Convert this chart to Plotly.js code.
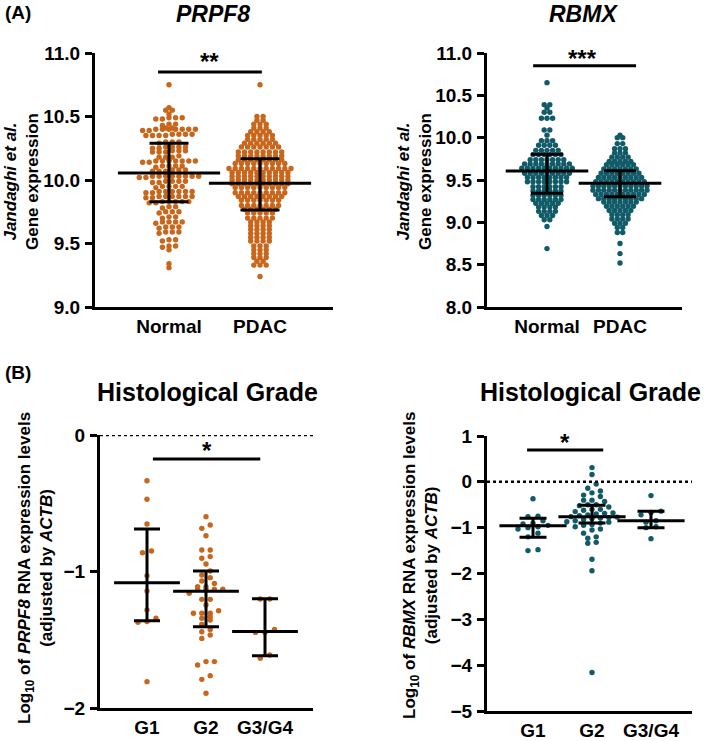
<!DOCTYPE html>
<html><head><meta charset="utf-8">
<script src="https://cdn.plot.ly/plotly-3.0.1.min.js"></script>
<style>html,body{margin:0;padding:0;background:#fff}#chart{width:709px;height:741px}</style>
</head><body><div id="chart"></div>
<script>
// ---------- DATA ----------
const groupsA = ['Normal', 'PDAC'];
const groupsB = ['G1', 'G2', 'G3/G4'];

const prpf8Normal = [10.75,
 10.57,10.55,10.55,10.52,
 10.49,10.49,10.48,10.49,10.48,
 10.44,10.44,10.43,
 10.40,10.40,10.39,10.40,10.41,10.40,10.39,10.40,10.40,10.41,10.40,
 10.36,10.35,10.36,10.35,10.36,10.35,10.36,10.35,
 10.30,10.30,10.29,10.30,
 10.26,10.26,10.25,10.26,10.26,10.25,
 10.22,10.23,10.22,10.23,10.22,10.23,
 10.18,10.18,10.19,10.18,
 10.15,10.15,10.14,10.15,10.15,10.16,10.15,10.14,10.15,10.15,
 10.11,10.11,10.10,10.11,10.11,
 10.07,10.08,10.07,10.08,10.07,10.08,
 10.03,10.03,10.02,10.03,10.03,10.04,10.03,10.02,10.03,10.03,10.03,
 9.99,9.99,9.98,9.99,9.99,9.98,
 9.95,9.95,9.94,9.95,9.95,
 9.91,9.91,9.90,9.91,9.91,9.90,9.91,9.91,
 9.87,9.87,9.86,9.87,9.87,9.86,9.87,9.87,
 9.83,9.83,9.82,9.83,9.83,9.82,9.83,
 9.79,9.79,9.78,
 9.75,9.75,9.74,9.75,
 9.71,9.71,9.70,
 9.67,9.67,9.66,9.67,9.67,
 9.63,9.63,9.62,9.63,
 9.59,9.59,9.58,9.59,
 9.53,9.52,9.53,
 9.48,9.47,9.48,
 9.45,
 9.34,9.31];

const prpf8Pdac = [10.75,
 10.50,10.50,
 10.47,10.47,
 10.44,10.44,10.44,
 10.41,10.41,10.41,
 10.38,10.38,10.38,10.38,
 10.35,10.35,10.35,10.35,10.35,
 10.32,10.32,10.32,10.32,10.32,
 10.29,10.29,10.29,10.29,10.29,10.29,
 10.26,10.26,10.26,10.26,10.26,10.26,10.26,
 10.22,10.22,10.22,10.22,10.22,10.22,10.22,10.22,
 10.19,10.19,10.19,10.19,10.19,10.19,10.19,10.19,
 10.16,10.16,10.16,10.16,10.16,10.16,10.16,10.16,
 10.13,10.13,10.13,10.13,10.13,10.13,10.13,10.13,10.13,
 10.09,10.09,10.09,10.09,10.09,10.09,10.09,10.09,10.09,10.09,10.09,
 10.06,10.06,10.06,10.06,10.06,10.06,10.06,10.06,10.06,10.06,
 10.03,10.03,10.03,10.03,10.03,10.03,10.03,10.03,10.03,10.03,
 10.00,10.00,10.00,10.00,10.00,10.00,10.00,10.00,10.00,10.00,
 9.97,9.97,9.97,9.97,9.97,9.97,9.97,9.97,9.97,9.97,
 9.94,9.94,9.94,9.94,9.94,9.94,9.94,9.94,9.94,
 9.90,9.90,9.90,9.90,9.90,9.90,9.90,9.90,9.90,
 9.87,9.87,9.87,9.87,9.87,9.87,9.87,9.87,
 9.84,9.84,9.84,9.84,9.84,9.84,9.84,
 9.80,9.80,9.80,9.80,9.80,9.80,9.80,
 9.77,9.77,9.77,9.77,9.77,9.77,
 9.74,9.74,9.74,9.74,9.74,
 9.70,9.70,9.70,9.70,9.70,
 9.67,9.67,9.67,9.67,
 9.64,9.64,9.64,9.64,
 9.61,9.61,9.61,9.61,
 9.58,9.58,9.58,9.58,
 9.55,9.55,9.55,9.55,
 9.52,9.52,9.52,9.52,
 9.48,9.48,9.48,
 9.45,9.45,9.45,
 9.42,9.42,9.42,
 9.39,9.39,9.39,
 9.36,9.36,
 9.33,9.33,9.33,
 9.24];

const rbmxNormal = [10.65,
 10.39,10.39,
 10.35,
 10.30,10.30,
 10.23,10.23,10.23,
 10.09,10.09,
 10.03,
 9.965,9.965,9.965,
 9.91,9.91,9.91,9.91,
 9.85,9.85,9.85,9.85,9.85,
 9.80,9.80,9.80,9.80,9.80,9.80,
 9.74,9.74,9.74,9.74,9.74,9.74,9.74,
 9.69,9.69,9.69,9.69,9.69,9.69,9.69,9.69,9.69,
 9.64,9.64,9.64,9.64,9.64,9.64,9.64,9.64,9.64,9.64,
 9.58,9.58,9.58,9.58,9.58,9.58,9.58,9.58,9.58,
 9.53,9.53,9.53,9.53,9.53,9.53,9.53,9.53,
 9.48,9.48,9.48,9.48,9.48,9.48,9.48,9.48,
 9.42,9.42,9.42,9.42,9.42,9.42,
 9.37,9.37,9.37,9.37,9.37,9.37,
 9.32,9.32,9.32,9.32,9.32,9.32,
 9.27,9.27,9.27,9.27,9.27,9.27,
 9.225,9.225,9.225,9.225,9.225,
 9.18,9.18,9.18,9.18,
 9.13,9.13,9.13,9.13,
 9.08,9.08,9.08,
 9.03,9.03,
 8.95,
 8.69];

const rbmxPdac = [10.03,
 10.00,10.00,
 9.93,9.93,
 9.87,9.87,9.87,
 9.82,9.82,9.82,
 9.77,9.77,9.77,9.77,
 9.72,9.72,9.72,9.72,9.72,
 9.68,9.68,9.68,9.68,9.68,9.68,
 9.63,9.63,9.63,9.63,9.63,9.63,9.63,
 9.58,9.58,9.58,9.58,9.58,9.58,9.58,9.58,
 9.53,9.53,9.53,9.53,9.53,9.53,9.53,9.53,9.53,
 9.48,9.48,9.48,9.48,9.48,9.48,9.48,9.48,9.48,9.48,
 9.43,9.43,9.43,9.43,9.43,9.43,9.43,9.43,9.43,9.43,9.43,
 9.38,9.38,9.38,9.38,9.38,9.38,9.38,9.38,9.38,9.38,9.38,
 9.33,9.33,9.33,9.33,9.33,9.33,9.33,9.33,9.33,9.33,
 9.28,9.28,9.28,9.28,9.28,9.28,9.28,9.28,9.28,
 9.24,9.24,9.24,9.24,9.24,9.24,9.24,
 9.19,9.19,9.19,9.19,9.19,9.19,
 9.14,9.14,9.14,9.14,9.14,
 9.09,9.09,9.09,9.09,
 9.04,9.04,9.04,9.04,
 8.99,8.99,8.99,
 8.94,8.94,
 8.88,8.88,
 8.75,
 8.63,
 8.52];

const prpf8G1 = [-0.335,-0.471,-0.652,-0.85,-0.862,-1.031,-1.143,-1.282,-1.343,-1.367,-1.372,-1.807];
const prpf8G2 = [-0.598,-0.659,-0.684,-0.738,-0.842,-0.842,-0.891,-0.903,-0.945,-0.996,-1.026,-1.045,
 -1.07,-1.087,-1.111,-1.111,-1.13,-1.13,-1.13,-1.13,-1.16,-1.204,-1.204,-1.245,-1.287,-1.306,-1.306,
 -1.306,-1.331,-1.343,-1.355,-1.387,-1.424,-1.441,-1.465,-1.49,-1.66,-1.66,-1.685,-1.763,-1.79,-1.892];
const prpf8G34 = [-1.201,-1.201,-1.424,-1.446,-1.446,-1.612,-1.636];

const rbmxG1 = [-0.37,-0.75,-0.76,-0.85,-0.90,-0.92,-0.95,-0.98,-1.00,-1.03,-1.12,-1.20,-1.48,-1.50];
const rbmxG2 = [0.31,0.16,-0.05,-0.14,-0.20,-0.24,-0.29,-0.32,-0.40,-0.40,-0.43,-0.50,-0.50,-0.52,-0.55,
 -0.60,-0.60,-0.62,-0.65,-0.68,-0.69,-0.70,-0.72,-0.74,-0.76,-0.77,-0.78,-0.79,-0.80,-0.82,-0.85,-0.87,
 -0.88,-0.90,-0.93,-0.95,-0.98,-1.03,-1.05,-1.12,-1.20,-1.23,-1.32,-1.34,-1.69,-1.94,-4.16];
const rbmxG34 = [-0.30,-0.64,-0.67,-0.72,-0.85,-0.88,-0.98,-1.00,-1.24];

// central line and bar ends (as drawn)
const prpf8ACenter = [10.055, 9.974], prpf8ALow = [9.829, 9.764], prpf8AHigh = [10.289, 10.168];
const rbmxACenter = [9.606, 9.461], rbmxALow = [9.343, 9.303], rbmxAHigh = [9.803, 9.61];
const prpf8BCenter = [-1.082, -1.144, -1.44], prpf8BLow = [-1.36, -1.404, -1.617], prpf8BHigh = [-0.689, -0.996, -1.2];
const rbmxBCenter = [-0.957, -0.76, -0.85], rbmxBLow = [-1.21, -0.9, -1.0], rbmxBHigh = [-0.797, -0.51, -0.64];

const tickA1 = [9, 9.5, 10, 10.5, 11], tickA1Text = ['9.0','9.5','10.0','10.5','11.0'];
const tickA2 = [8, 8.5, 9, 9.5, 10, 10.5, 11], tickA2Text = ['8.0','8.5','9.0','9.5','10.0','10.5','11.0'];
const tickB1 = [-2, -1, 0], tickB1Text = ['\u22122','\u22121','0'];
const tickB2 = [-5, -4, -3, -2, -1, 0, 1], tickB2Text = ['\u22125','\u22124','\u22123','\u22122','\u22121','0','1'];

// ---------- LAYOUT ----------
const W = 709, H = 741;
const ORANGE = '#C8661B', TEAL = '#115A68';
const FONT = 'Arial, "Liberation Sans", sans-serif';
const bold = arr => arr.map(t => '<b>' + t + '</b>');

const panels = [
  {xa:'x',  ya:'y',  xpx:[95,333],  ypx:[53,307],  cat:[169,260],      yr:[9,11],  tv:tickA1, tt:tickA1Text, groups:groupsA,
   series:[prpf8Normal, prpf8Pdac], center:prpf8ACenter, low:prpf8ALow, high:prpf8AHigh, color:ORANGE,
   gaps:[6.6,6.2], tol:2.2, meanW:73, capW:39},
  {xa:'x2', ya:'y2', xpx:[487,682], ypx:[53,307],  cat:[547,620],      yr:[8,11],  tv:tickA2, tt:tickA2Text, groups:groupsA,
   series:[rbmxNormal, rbmxPdac], center:rbmxACenter, low:rbmxALow, high:rbmxAHigh, color:TEAL,
   gaps:[5.6,5.4], tol:2.2, meanW:59, capW:32},
  {xa:'x3', ya:'y3', xpx:[100,313], ypx:[435,708], cat:[147,206,265],  yr:[-2,0],  tv:tickB1, tt:tickB1Text, groups:groupsB,
   series:[prpf8G1, prpf8G2, prpf8G34], center:prpf8BCenter, low:prpf8BLow, high:prpf8BHigh, color:ORANGE,
   gaps:[9,8.4,9.5], tol:4.8, meanW:47, capW:26},
  {xa:'x4', ya:'y4', xpx:[487,692], ypx:[436,711], cat:[533,592,651],  yr:[-5,1],  tv:tickB2, tt:tickB2Text, groups:groupsB,
   series:[rbmxG1, rbmxG2, rbmxG34], center:rbmxBCenter, low:rbmxBLow, high:rbmxBHigh, color:TEAL,
   gaps:[10,8.4,10], tol:4.8, meanW:48, capW:27}
];

// Prism-like column scatter: values at (nearly) the same height share a row
function swarm(values, c, gapPx, tolPx, pxX, pxY) {
  const idx = values.map((v,i)=>i).sort((a,b)=>values[a]-values[b]);
  const xs = new Array(values.length);
  let i = 0;
  while (i < idx.length) {
    const start = values[idx[i]];
    let j = i;
    while (j < idx.length && (values[idx[j]] - start) * pxY <= tolPx) j++;
    const n = j - i;
    for (let k = 0; k < n; k++) xs[idx[i+k]] = c + (k - (n-1)/2) * gapPx / pxX;
    i = j;
  }
  return xs;
}

const traces = [];
const layout = {
  width: W, height: H, margin:{l:0,r:0,t:0,b:0}, showlegend:false,
  paper_bgcolor:'#fff', plot_bgcolor:'rgba(0,0,0,0)', hovermode:false,
  font:{family:FONT, color:'#000'},
  shapes:[], annotations:[]
};

panels.forEach((p, pi) => {
  const unit = p.cat[1] - p.cat[0];
  const n = p.groups.length;
  const xr = [(p.xpx[0]-p.cat[0])/unit, (p.xpx[1]-p.cat[0])/unit];
  const pxX = unit, pxY = (p.ypx[1]-p.ypx[0])/(p.yr[1]-p.yr[0]);
  const xk = 'xaxis' + (pi ? pi+1 : ''), yk = 'yaxis' + (pi ? pi+1 : '');
  const catX = p.cat.map(c => (c - p.cat[0]) / unit);
  layout[xk] = {domain:[p.xpx[0]/W, p.xpx[1]/W], range:xr, anchor:p.ya, showline:true, linewidth:3, linecolor:'#000',
    ticks:'', tickvals:catX, ticktext:bold(p.groups), showgrid:false, zeroline:false, fixedrange:true,
    tickfont:{family:FONT, size:19, color:'#000'}, ticklabelstandoff:0};
  layout[yk] = {domain:[1-p.ypx[1]/H, 1-p.ypx[0]/H], range:p.yr, anchor:p.xa, showline:true, linewidth:3, linecolor:'#000',
    ticks:'outside', ticklen:7, tickwidth:3, tickcolor:'#000', tickvals:p.tv, ticktext:bold(p.tt), showgrid:false, zeroline:false,
    fixedrange:true, tickfont:{family:FONT, size:19, color:'#000'}, ticklabelstandoff:1};
  p.series.forEach((vals, gi) => {
    traces.push({type:'scatter', mode:'markers', xaxis:p.xa, yaxis:p.ya, cliponaxis:false,
      x: swarm(vals, catX[gi], p.gaps[gi], p.tol, pxX, pxY), y: vals,
      marker:{size:5.4, color:p.color, line:{width:0}}});
  });
  traces.push({type:'scatter', mode:'markers', xaxis:p.xa, yaxis:p.ya, cliponaxis:false,
    x: catX.slice(0, n), y: p.center,
    marker:{symbol:'line-ew', size:p.meanW, color:'#000', line:{width:3, color:'#000'}},
    error_y:{type:'data', symmetric:false, array:p.high.map((h,i)=>h-p.center[i]),
      arrayminus:p.center.map((c,i)=>c-p.low[i]), width:p.capW/2, thickness:3, color:'#000'}});
});

// dotted zero lines in panel B
['x3','x4'].forEach((xa, i) => {
  layout.shapes.push({type:'line', xref:xa+' domain', yref:(i? 'y4':'y3'), x0:0, x1:1, y0:0, y1:0,
    line:{color:'#000', width:2.5, dash:'dot'}});
});
// significance brackets
const sig = [
  {xr:'x', yr:'y', x0:-0.12, x1:1.02, y:10.85, t:'**', ty:10.93, tx:0.45},
  {xr:'x2', yr:'y2', x0:-0.19, x1:1.22, y:10.85, t:'***', ty:10.93, tx:0.49},
  {xr:'x3', yr:'y3', x0:0.10, x1:1.92, y:-0.176, t:'*', ty:-0.11, tx:1.02},
  {xr:'x4', yr:'y4', x0:-0.10, x1:1.19, y:0.695, t:'*', ty:0.86, tx:0.54}
];
sig.forEach(s => {
  layout.shapes.push({type:'line', xref:s.xr, yref:s.yr, x0:s.x0, x1:s.x1, y0:s.y, y1:s.y, line:{color:'#000', width:3}});
  layout.annotations.push({xref:s.xr, yref:s.yr, x:s.tx, y:s.ty, text:'<b>' + s.t + '</b>', showarrow:false, xanchor:'center', yanchor:'middle',
    font:{family:FONT, size:24, color:'#000'}});
});

function ann(text, px, py, size, opts) {
  layout.annotations.push(Object.assign({xref:'paper', yref:'paper', x:px/W, y:1-py/H, text:'<b>' + text + '</b>', showarrow:false,
    xanchor:'center', yanchor:'middle', font:{family:FONT, size:size, color:'#000'}}, opts||{}));
}
ann('(A)', 3, 12, 19, {xanchor:'left'});
ann('(B)', 3, 372, 19, {xanchor:'left'});
ann('<i>PRPF8</i>', 213, 14, 23);
ann('<i>RBMX</i>', 583, 14, 23);
ann('Histological Grade', 207, 392, 25);
ann('Histological Grade', 590, 392, 25);
ann('<i>Jandaghi et al.</i><br>Gene expression', 21, 182, 17, {textangle:-90});
ann('<i>Jandaghi et al.</i><br>Gene expression', 414, 182, 17, {textangle:-90});
ann('Log<sub>10</sub> of <i>PRPF8</i> RNA expression levels<br>(adjusted by <i>ACTB</i>)', 35, 568, 17, {textangle:-90});
ann('Log<sub>10</sub> of <i>RBMX</i> RNA expression levels<br>(adjusted by <i>ACTB</i>)', 420, 566, 17, {textangle:-90});

Plotly.newPlot('chart', traces, layout, {staticPlot:true, displayModeBar:false});
</script></body></html>
